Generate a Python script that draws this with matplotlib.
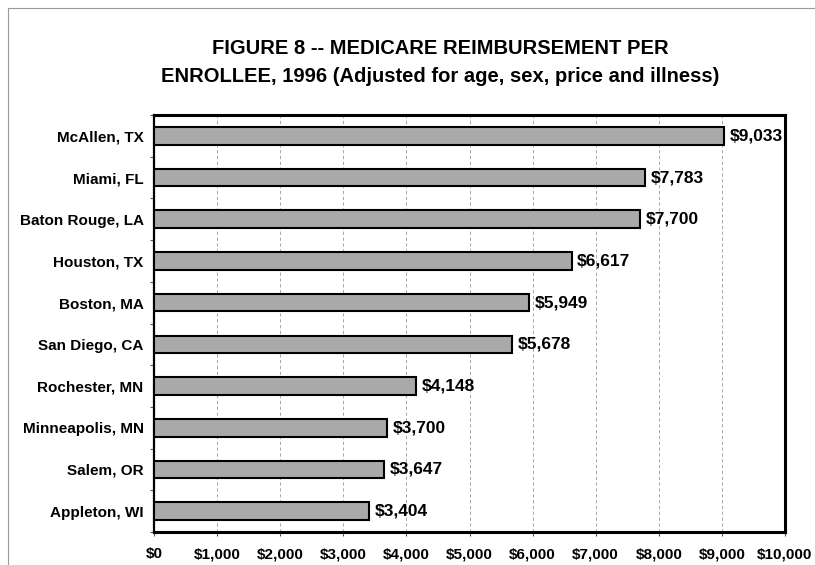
import matplotlib.pyplot as plt
from matplotlib.lines import Line2D

# ---- data ----
cities = ["McAllen, TX", "Miami, FL", "Baton Rouge, LA", "Houston, TX", "Boston, MA",
          "San Diego, CA", "Rochester, MN", "Minneapolis, MN", "Salem, OR", "Appleton, WI"]
reimb = [9033, 7783, 7700, 6617, 5949, 5678, 4148, 3700, 3647, 3404]
xticks = list(range(0, 10001, 1000))
xtick_labels = [f"${v:,}" for v in xticks]
# --------------

plt.rcParams['font.family'] = ['Liberation Sans', 'DejaVu Sans']
plt.rcParams['font.weight'] = 'bold'

fig = plt.figure(figsize=(8.15, 5.65), dpi=100)
ax = fig.add_axes([154 / 815, 1 - 532 / 565, (785 - 154) / 815, (532 - 115) / 565])

ypos = list(range(len(cities)))
ax.barh(ypos, reimb, height=0.42, color="#a9a9a9", edgecolor="black", linewidth=1.5, zorder=3)

for y, v in zip(ypos, reimb):
    ax.annotate(f"${v:,}", (v, y), xytext=(4, 0), textcoords="offset points",
                va="center", ha="left", fontsize=12.5, fontweight="bold", zorder=4,
                annotation_clip=False)

ax.set_xlim(0, 10000)
ax.set_ylim(len(cities) - 0.5, -0.5)
ax.set_xticks(xticks)
ax.set_xticklabels(xtick_labels, fontsize=11, fontweight="bold")
ax.set_yticks(ypos)
ax.set_yticklabels(cities, fontsize=11, fontweight="bold")
ax.tick_params(axis="y", length=0, pad=7.5)
ax.tick_params(axis="x", length=3, width=0.8, direction="out", pad=8, color="#555555")
# small marks between categories on the left
ax.set_yticks([i + 0.5 for i in range(-1, len(cities))], minor=True)
ax.tick_params(axis="y", which="minor", length=3, width=0.8, color="#555555")

ax.grid(axis="x", color="#9a9a9a", linestyle=(0, (4, 3)), linewidth=0.6, zorder=0)

for side in ["top", "right", "bottom"]:
    ax.spines[side].set_linewidth(2.2)
ax.spines["left"].set_linewidth(1.6)

fig.text(440 / 815, 1 - 48 / 565, "FIGURE 8 -- MEDICARE REIMBURSEMENT PER",
         ha="center", va="center", fontsize=14.5, fontweight="bold")
fig.text(440 / 815, 1 - 77 / 565, "ENROLLEE, 1996 (Adjusted for age, sex, price and illness)",
         ha="center", va="center", fontsize=14.5, fontweight="bold")

# faint outer frame (left and top edges)
fig.add_artist(Line2D([8 / 815, 8 / 815], [0, 1 - 8 / 565], color="#999999", lw=0.8))
fig.add_artist(Line2D([8 / 815, 1], [1 - 8 / 565, 1 - 8 / 565], color="#999999", lw=0.8))

fig.savefig("out.png", dpi=100)
